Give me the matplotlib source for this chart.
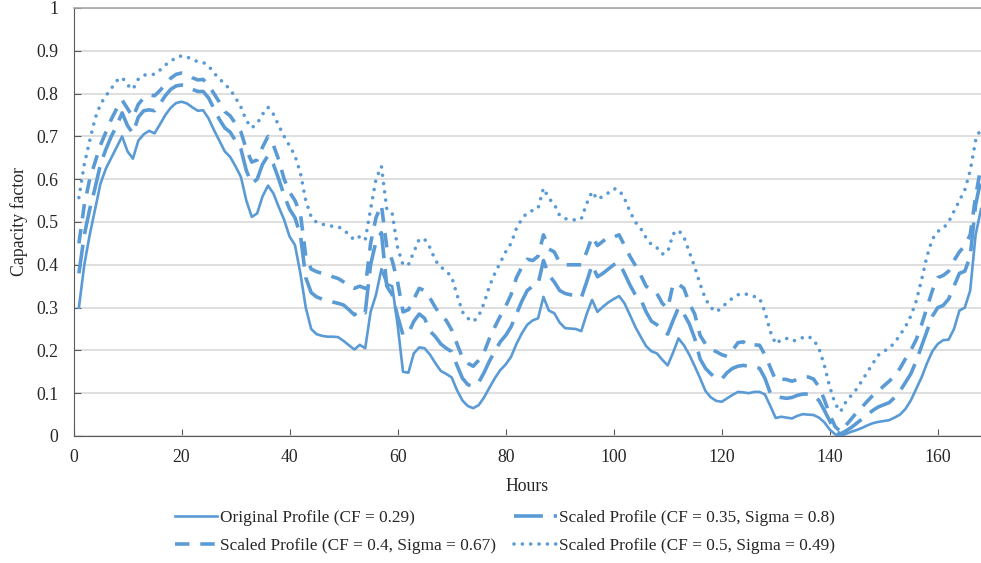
import numpy as np
import matplotlib.pyplot as plt

plt.rcParams['font.family'] = ['Liberation Serif', 'DejaVu Serif']
plt.rcParams['font.size'] = 12.8

hours = np.arange(1, 169)

original = [
    0.30, 0.40, 0.47, 0.53, 0.59, 0.625, 0.65, 0.675, 0.70, 0.665,
    0.648, 0.69, 0.705, 0.713, 0.707, 0.728, 0.75, 0.767, 0.778, 0.781,
    0.777, 0.768, 0.760, 0.761, 0.742, 0.715, 0.69, 0.665, 0.652, 0.63,
    0.605, 0.55, 0.512, 0.52, 0.56, 0.585, 0.567, 0.535, 0.505, 0.466,
    0.446, 0.38, 0.30, 0.25, 0.238, 0.234, 0.232, 0.232, 0.231, 0.222,
    0.212, 0.202, 0.213, 0.205, 0.29, 0.33, 0.39, 0.355, 0.35, 0.26,
    0.15, 0.148, 0.193, 0.207, 0.205, 0.19, 0.17, 0.152, 0.145, 0.137,
    0.107, 0.083, 0.07, 0.065, 0.072, 0.09, 0.113, 0.135, 0.154, 0.167,
    0.185, 0.215, 0.24, 0.26, 0.27, 0.275, 0.325, 0.293, 0.287, 0.265,
    0.252, 0.251, 0.25, 0.245, 0.285, 0.318, 0.29, 0.302, 0.312, 0.32,
    0.327, 0.31, 0.283, 0.255, 0.232, 0.21, 0.198, 0.193, 0.178, 0.165,
    0.195, 0.228, 0.212, 0.19, 0.163, 0.135, 0.105, 0.09, 0.082, 0.08,
    0.088, 0.096, 0.103, 0.102, 0.10, 0.103, 0.103, 0.097, 0.07, 0.042,
    0.045, 0.043, 0.041, 0.047, 0.051, 0.05, 0.049, 0.043, 0.032, 0.015,
    0.004, 0.0, 0.005, 0.01, 0.014, 0.019, 0.025, 0.03, 0.033, 0.035,
    0.037, 0.043, 0.05, 0.063, 0.083, 0.11, 0.137, 0.17, 0.198, 0.215,
    0.224, 0.225, 0.25, 0.293, 0.30, 0.34, 0.47, 0.53,
]

scaled_035 = [
    0.38, 0.47, 0.53, 0.58, 0.635, 0.67, 0.70, 0.725, 0.755, 0.725,
    0.707, 0.745, 0.76, 0.762, 0.76, 0.776, 0.795, 0.81, 0.818, 0.82,
    0.818, 0.81, 0.805, 0.805, 0.79, 0.765, 0.74, 0.72, 0.71, 0.69,
    0.67, 0.62, 0.59, 0.60, 0.635, 0.655, 0.635, 0.60, 0.562, 0.53,
    0.51, 0.47, 0.37, 0.335, 0.325, 0.32, 0.316, 0.313, 0.31, 0.306,
    0.295, 0.283, 0.295, 0.288, 0.40, 0.455, 0.475, 0.35, 0.33, 0.28,
    0.236, 0.24, 0.268, 0.285, 0.275, 0.245, 0.232, 0.215, 0.205, 0.197,
    0.165, 0.135, 0.12, 0.116, 0.125, 0.148, 0.175, 0.198, 0.22, 0.235,
    0.255, 0.285, 0.315, 0.34, 0.35, 0.355, 0.41, 0.376, 0.36, 0.34,
    0.333, 0.33, 0.328, 0.323, 0.36, 0.40, 0.372, 0.38, 0.39, 0.40,
    0.405, 0.38, 0.353, 0.33, 0.32, 0.29, 0.268, 0.26, 0.248, 0.238,
    0.27, 0.30, 0.285, 0.262, 0.228, 0.18, 0.158, 0.145, 0.135, 0.133,
    0.148, 0.158, 0.163, 0.165, 0.163, 0.162, 0.158, 0.135, 0.10, 0.092,
    0.09, 0.088, 0.09, 0.095, 0.098, 0.098, 0.095, 0.083, 0.06, 0.035,
    0.012, 0.005, 0.012, 0.02, 0.03, 0.04, 0.05, 0.06, 0.068, 0.073,
    0.078, 0.09, 0.105, 0.125, 0.145, 0.175, 0.21, 0.245, 0.28, 0.30,
    0.305, 0.32, 0.35, 0.38, 0.385, 0.42, 0.54, 0.60,
]

scaled_040 = [
    0.45, 0.54, 0.60, 0.64, 0.68, 0.71, 0.74, 0.765, 0.785, 0.765,
    0.745, 0.775, 0.79, 0.797, 0.795, 0.807, 0.822, 0.836, 0.845, 0.848,
    0.845, 0.837, 0.832, 0.833, 0.82, 0.80, 0.78, 0.758, 0.748, 0.73,
    0.71, 0.67, 0.64, 0.645, 0.675, 0.70, 0.68, 0.645, 0.60, 0.57,
    0.55, 0.52, 0.42, 0.39, 0.384, 0.38, 0.378, 0.372, 0.368, 0.36,
    0.35, 0.345, 0.35, 0.345, 0.45, 0.51, 0.54, 0.44, 0.41, 0.36,
    0.29, 0.295, 0.32, 0.345, 0.34, 0.322, 0.30, 0.282, 0.27, 0.248,
    0.215, 0.183, 0.17, 0.163, 0.177, 0.195, 0.228, 0.255, 0.28, 0.303,
    0.33, 0.37, 0.395, 0.413, 0.41, 0.42, 0.47, 0.437, 0.43, 0.405,
    0.40, 0.40, 0.40, 0.40, 0.43, 0.466, 0.445, 0.455, 0.465, 0.465,
    0.47, 0.445, 0.42, 0.399, 0.376, 0.35, 0.34, 0.333, 0.31, 0.298,
    0.355, 0.355, 0.345, 0.31, 0.285, 0.235, 0.215, 0.203, 0.197, 0.19,
    0.186, 0.20, 0.218, 0.22, 0.21, 0.213, 0.212, 0.19, 0.16, 0.13,
    0.133, 0.132, 0.128, 0.132, 0.137, 0.138, 0.133, 0.115, 0.085, 0.05,
    0.022, 0.01, 0.025, 0.04, 0.055, 0.068, 0.082, 0.095, 0.105, 0.117,
    0.128, 0.14, 0.158, 0.18, 0.20, 0.225, 0.26, 0.30, 0.34, 0.37,
    0.375, 0.385, 0.41, 0.43, 0.445, 0.47, 0.56, 0.63,
]

scaled_050 = [
    0.557, 0.635, 0.69, 0.742, 0.775, 0.795, 0.812, 0.83, 0.838, 0.82,
    0.81, 0.834, 0.843, 0.845, 0.845, 0.855, 0.867, 0.875, 0.885, 0.888,
    0.886, 0.879, 0.875, 0.873, 0.865, 0.848, 0.835, 0.822, 0.81, 0.79,
    0.768, 0.737, 0.72, 0.73, 0.752, 0.768, 0.752, 0.725, 0.70, 0.678,
    0.655, 0.615, 0.55, 0.512, 0.499, 0.495, 0.492, 0.49, 0.489, 0.482,
    0.47, 0.458, 0.466, 0.458, 0.53, 0.60, 0.63, 0.53, 0.52, 0.44,
    0.40, 0.40, 0.43, 0.46, 0.46, 0.44, 0.41, 0.395, 0.385, 0.372,
    0.33, 0.29, 0.275, 0.267, 0.28, 0.31, 0.35, 0.38, 0.405, 0.43,
    0.45, 0.485, 0.507, 0.522, 0.527, 0.532, 0.579, 0.555, 0.542, 0.515,
    0.508, 0.505, 0.505, 0.507, 0.543, 0.571, 0.553, 0.56, 0.568, 0.578,
    0.575, 0.555, 0.525, 0.50, 0.485, 0.463, 0.447, 0.44, 0.425, 0.43,
    0.472, 0.481, 0.465, 0.43, 0.395, 0.355, 0.32, 0.30, 0.29, 0.30,
    0.312, 0.322, 0.33, 0.333, 0.33, 0.326, 0.322, 0.29, 0.244, 0.215,
    0.225, 0.228, 0.222, 0.224, 0.23, 0.233, 0.225, 0.205, 0.165, 0.115,
    0.075, 0.057, 0.08, 0.095, 0.11, 0.13, 0.15, 0.17, 0.189, 0.198,
    0.205, 0.218, 0.236, 0.255, 0.28, 0.315, 0.365, 0.42, 0.46, 0.478,
    0.485, 0.50, 0.525, 0.55, 0.575, 0.62, 0.69, 0.72,
]

labels = [
    'Original Profile (CF = 0.29)',
    'Scaled Profile (CF = 0.35, Sigma = 0.8)',
    'Scaled Profile (CF = 0.4, Sigma = 0.67)',
    'Scaled Profile (CF = 0.5, Sigma = 0.49)',
]

blue = '#5b9bd5'
grey = '#595959'
text_col = '#262626'

fig = plt.figure(figsize=(9.81, 5.63), dpi=100)
ax = fig.add_axes([73.5 / 981, 1 - 436 / 563, 1 - 73.5 / 981, 428 / 563])

l0, = ax.plot(hours, original, color=blue, lw=1.9, solid_joinstyle='round')
l1, = ax.plot(hours, scaled_035, color=blue, lw=2.6, dashes=(8, 3),
              dash_capstyle='butt')
l2, = ax.plot(hours, scaled_040, color=blue, lw=2.6, dashes=(4, 3),
              dash_capstyle='butt')
l3, = ax.plot(hours, scaled_050, color=blue, lw=2.6, dashes=(0.01, 2.3),
              dash_capstyle='round')

ax.set_xlim(0, 168)
ax.set_ylim(0, 1)
ax.set_xticks(range(0, 161, 20))
ax.set_yticks(np.arange(0, 1.01, 0.1))
ax.set_yticklabels(['0', '0.1', '0.2', '0.3', '0.4', '0.5', '0.6', '0.7',
                    '0.8', '0.9', '1'])
ax.grid(axis='y', color='#d9d9d9', lw=1.2)
ax.set_axisbelow(True)

ax.spines['right'].set_visible(False)
ax.spines['top'].set_color('#a6a6a6')
ax.spines['top'].set_linewidth(1.2)
ax.spines['left'].set_color(grey)
ax.spines['bottom'].set_color(grey)
ax.tick_params(axis='x', direction='in', length=5, color=grey, pad=9,
               labelcolor=text_col)
ax.tick_params(axis='y', direction='in', length=5, color=grey, pad=11,
               labelcolor=text_col)

ax.set_xlabel('Hours', labelpad=9, color=text_col)
ax.set_ylabel('Capacity factor', labelpad=6, color=text_col)

# two-column legend, filled row by row
fig.legend([l0, l2, l1, l3], [labels[0], labels[2], labels[1], labels[3]],
           ncol=2, loc='center', bbox_to_anchor=(505 / 981, 1 - 532 / 563),
           frameon=False, fontsize=12.4, handlelength=2.45,
           handletextpad=0.15, columnspacing=1.1, labelspacing=0.7,
           borderpad=0.2, labelcolor=text_col)

fig.savefig('out.png', dpi=100)
